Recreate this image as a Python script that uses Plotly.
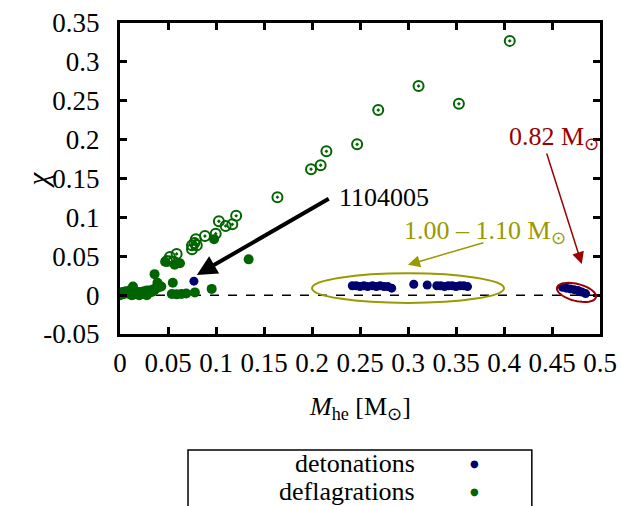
import math
import plotly.graph_objects as go

# ---- data ----
# deflagrations, open circle-dot markers
defl_open_x = [0.406, 0.311, 0.353, 0.269, 0.247, 0.215, 0.209, 0.199, 0.164,
               0.121, 0.117, 0.110, 0.103, 0.0997, 0.0885, 0.079, 0.0775, 0.080,
               0.075, 0.075, 0.059, 0.052, 0.049, 0.056]
defl_open_y = [0.327, 0.269, 0.246, 0.238, 0.194, 0.185, 0.167, 0.162, 0.126,
               0.102, 0.091, 0.089, 0.095, 0.079, 0.076, 0.072, 0.067, 0.064,
               0.064, 0.059, 0.053, 0.049, 0.044, 0.043]

# deflagrations, filled markers
defl_x = [0.134, 0.098, 0.057, 0.047, 0.0625, 0.055, 0.036, 0.039, 0.041, 0.037,
          0.0955, 0.078, 0.069, 0.064, 0.059, 0.054,
          0.043, 0.040, 0.037, 0.034, 0.031, 0.028, 0.025, 0.022, 0.019, 0.016,
          0.0135, 0.011, 0.008, 0.005, 0.003, 0.001, 0.0, 0.002, 0.006, 0.010,
          0.014, 0.018, 0.022, 0.026, 0.030, 0.033, 0.012, 0.020, 0.028, 0.035]
defl_y = [0.046, 0.072, 0.039, 0.043, 0.041, 0.016, 0.027, 0.016, 0.012, 0.009,
          0.008, 0.0035, 0.002, 0.0015, 0.001, 0.0015,
          0.011, 0.010, 0.008, 0.007, 0.006, 0.006, 0.005, 0.004, 0.004, 0.003,
          0.011, 0.003, 0.002, 0.002, 0.001, 0.001, 0.0, 0.004, 0.005, 0.006,
          0.0005, 0.001, 0.001, 0.002, 0.003, 0.004, 0.0, 0.0, 0.0, 0.005]

# detonations
det_x = [0.077,
         0.242, 0.246, 0.250, 0.254, 0.258, 0.263, 0.267, 0.271, 0.275, 0.279, 0.283,
         0.306, 0.320,
         0.330, 0.334, 0.338, 0.342, 0.346, 0.350, 0.354, 0.358, 0.362,
         0.461, 0.465, 0.469, 0.473, 0.477, 0.481, 0.485]
det_y = [0.018,
         0.012, 0.012, 0.011, 0.012, 0.011, 0.012, 0.011, 0.012, 0.011, 0.011, 0.009,
         0.014, 0.013,
         0.012, 0.012, 0.011, 0.012, 0.012, 0.011, 0.012, 0.012, 0.011,
         0.010, 0.009, 0.008, 0.007, 0.006, 0.004, 0.002]

zero_x = [0.0, 0.5]
zero_y = [0.0, 0.0]

x_ticks = [0, 0.05, 0.1, 0.15, 0.2, 0.25, 0.3, 0.35, 0.4, 0.45, 0.5]
x_tick_text = ["0", "0.05", "0.1", "0.15", "0.2", "0.25", "0.3", "0.35", "0.4", "0.45", "0.5"]
y_ticks = [-0.05, 0, 0.05, 0.1, 0.15, 0.2, 0.25, 0.3, 0.35]
y_tick_text = ["-0.05", "0", "0.05", "0.1", "0.15", "0.2", "0.25", "0.3", "0.35"]

legend_labels = ["detonations", "deflagrations"]

GREEN = "#006400"
BLUE = "#00006e"
OLIVE = "#999900"
DRED = "#990000"
FONT = "Liberation Serif"

fig = go.Figure()
fig.add_trace(go.Scatter(x=zero_x, y=zero_y, mode="lines",
                         line=dict(color="black", width=1.5, dash="dash"),
                         showlegend=False, hoverinfo="skip"))
fig.add_trace(go.Scatter(x=defl_open_x, y=defl_open_y, mode="markers",
                         marker=dict(symbol="circle-open-dot", size=10, color=GREEN,
                                     line=dict(width=2, color=GREEN)),
                         showlegend=False))
fig.add_trace(go.Scatter(x=defl_x, y=defl_y, mode="markers",
                         marker=dict(symbol="circle", size=10, color=GREEN),
                         name=legend_labels[1], showlegend=False))
fig.add_trace(go.Scatter(x=det_x, y=det_y, mode="markers",
                         marker=dict(symbol="circle", size=9, color=BLUE),
                         name=legend_labels[0], showlegend=False))

# ellipses
fig.add_shape(type="circle", xref="x", yref="y", x0=0.200, x1=0.400, y0=-0.010, y1=0.028,
              line=dict(color=OLIVE, width=2))

# tilted ellipse around the 0.82 Msun group (axes given in plot pixels, converted to data)
px_per_x = 480 / 0.5
px_per_y = 311 / 0.40
cx, cy, a_px, b_px, ang = 0.4755, 0.0035, 20.0, 8.5, math.radians(-14)
pts = []
for k in range(49):
    t = 2 * math.pi * k / 48
    u, v = a_px * math.cos(t), b_px * math.sin(t)
    dx = u * math.cos(ang) - v * math.sin(ang)
    dy = u * math.sin(ang) + v * math.cos(ang)
    pts.append((cx + dx / px_per_x, cy + dy / px_per_y))
path = "M " + " L ".join(f"{p[0]:.5f},{p[1]:.5f}" for p in pts) + " Z"
fig.add_shape(type="path", xref="x", yref="y", path=path, line=dict(color=DRED, width=2))

# legend box
fig.add_shape(type="rect", xref="paper", yref="paper", x0=0.1417, x1=0.858, y0=-0.62, y1=-0.373,
              line=dict(color="black", width=1.5))

annots = []
# arrows
annots.append(dict(x=0.080, y=0.026, ax=0.219, ay=0.125, xref="x", yref="y", axref="x", ayref="y",
                   text="", showarrow=True, arrowhead=2, arrowsize=1, arrowwidth=4,
                   arrowcolor="black"))
annots.append(dict(x=0.300, y=0.039, ax=0.380, ay=0.068, xref="x", yref="y", axref="x", ayref="y",
                   text="", showarrow=True, arrowhead=2, arrowsize=1.6, arrowwidth=1.5,
                   arrowcolor=OLIVE))
annots.append(dict(x=0.481, y=0.040, ax=0.444, ay=0.184, xref="x", yref="y", axref="x", ayref="y",
                   text="", showarrow=True, arrowhead=2, arrowsize=1.6, arrowwidth=1.5,
                   arrowcolor=DRED))
# texts
annots.append(dict(x=0.226, y=0.126, xref="x", yref="y", text="1104005", showarrow=False,
                   xanchor="left", yanchor="middle", font=dict(family=FONT, size=26, color="black")))
annots.append(dict(x=0.294, y=0.081, xref="x", yref="y", text="1.00 – 1.10 M<sub>⊙</sub>",
                   showarrow=False, xanchor="left", yanchor="middle",
                   font=dict(family=FONT, size=26, color=OLIVE)))
annots.append(dict(x=0.403, y=0.202, xref="x", yref="y", text="0.82 M<sub>⊙</sub>",
                   showarrow=False, xanchor="left", yanchor="middle",
                   font=dict(family=FONT, size=26, color=DRED)))
# axis titles
annots.append(dict(x=0.5, y=-0.238, xref="paper", yref="paper",
                   text="<i>M</i><sub>he</sub> [M<sub>⊙</sub>]", showarrow=False,
                   xanchor="center", yanchor="middle",
                   font=dict(family=FONT, size=26, color="black")))
annots.append(dict(x=-0.17, y=0.495, xref="paper", yref="paper", text="<i>χ</i>",
                   showarrow=False, textangle=-90, xanchor="center", yanchor="middle",
                   font=dict(family=FONT, size=29, color="black")))
# legend entries
annots.append(dict(x=0.619, y=-0.415, xref="paper", yref="paper", text=legend_labels[0],
                   showarrow=False, xanchor="right", yanchor="middle",
                   font=dict(family=FONT, size=26, color="black")))
annots.append(dict(x=0.619, y=-0.508, xref="paper", yref="paper", text=legend_labels[1],
                   showarrow=False, xanchor="right", yanchor="middle",
                   font=dict(family=FONT, size=26, color="black")))
annots.append(dict(x=0.7375, y=-0.415, xref="paper", yref="paper", text="●",
                   showarrow=False, xanchor="center", yanchor="middle",
                   font=dict(family="DejaVu Sans", size=10, color=BLUE)))
annots.append(dict(x=0.7375, y=-0.508, xref="paper", yref="paper", text="●",
                   showarrow=False, xanchor="center", yanchor="middle",
                   font=dict(family="DejaVu Sans", size=10, color=GREEN)))

axis_common = dict(showline=True, linewidth=3, linecolor="black", mirror="allticks",
                   ticks="inside", ticklen=7, tickwidth=3, tickcolor="black",
                   showgrid=False, zeroline=False, automargin=False,
                   tickfont=dict(family=FONT, size=27, color="black"))

fig.update_layout(
    width=622, height=506,
    margin=dict(l=120, r=22, t=23, b=172),
    paper_bgcolor="white", plot_bgcolor="white",
    showlegend=False,
    annotations=annots,
    xaxis=dict(range=[0, 0.5], tickvals=x_ticks, ticktext=x_tick_text,
               ticklabelstandoff=3, **axis_common),
    yaxis=dict(range=[-0.05, 0.35], tickvals=y_ticks, ticktext=y_tick_text,
               ticklabelstandoff=12, **axis_common),
)

fig.write_html("out.html", config={"displayModeBar": False},
               post_script="document.body.style.margin='0px';document.body.style.overflow='hidden';")
